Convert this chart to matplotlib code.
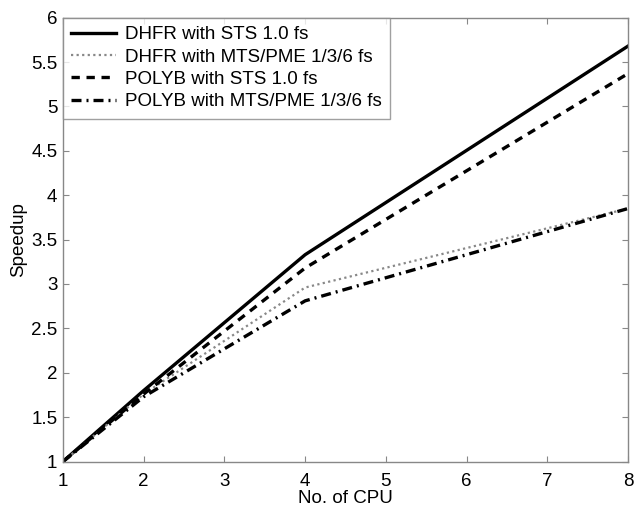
import matplotlib
matplotlib.use("Agg")
import matplotlib.pyplot as plt

cpus = [1, 2, 4, 8]
dhfr_sts = [1.0, 1.80, 3.33, 5.68]
dhfr_mts = [1.0, 1.76, 2.96, 3.85]
polyb_sts = [1.0, 1.76, 3.18, 5.37]
polyb_mts = [1.0, 1.73, 2.81, 3.85]
labels = ["DHFR with STS 1.0 fs", "DHFR with MTS/PME 1/3/6 fs",
          "POLYB with STS 1.0 fs", "POLYB with MTS/PME 1/3/6 fs"]
xticks = [1, 2, 3, 4, 5, 6, 7, 8]
yticks = [1, 1.5, 2, 2.5, 3, 3.5, 4, 4.5, 5, 5.5, 6]

plt.rcParams['font.family'] = ['Liberation Sans', 'DejaVu Sans']
fig = plt.figure(figsize=(6.34, 5.08), dpi=100)
ax = fig.add_axes([63/634, 1 - 461.5/508, (628-63)/634, (461.5-17.7)/508])

ax.plot(cpus, dhfr_sts, color='black', lw=2.4, ls='-', label=labels[0])
ax.plot(cpus, dhfr_mts, color='#888888', lw=1.6, ls=(0, (1, 1.5)), label=labels[1])
ax.plot(cpus, polyb_sts, color='black', lw=2.4, ls=(0, (2.5, 2)), label=labels[2])
ax.plot(cpus, polyb_mts, color='black', lw=2.4, ls=(0, (3, 1.5, 0.6, 1.5)), label=labels[3])

ax.set_xlim(1, 8)
ax.set_ylim(1, 6)
ax.set_xticks(xticks)
ax.set_yticks(yticks)
ax.set_yticklabels([f"{v:g}" for v in yticks])
ax.tick_params(direction='in', length=4, width=0.8, color='#888888', labelsize=13.5,
               top=True, right=True)
ax.tick_params(axis='x', pad=8)
ax.tick_params(axis='y', pad=4)
for s in ax.spines.values():
    s.set_color('#888888')
    s.set_linewidth(1.0)

ax.set_xlabel("No. of CPU", fontsize=13.5, labelpad=0)
ax.set_ylabel("Speedup", fontsize=13.5, labelpad=3)

leg = ax.legend(loc='upper left', bbox_to_anchor=(0, 1), borderaxespad=0,
                fontsize=13.5, frameon=True, fancybox=False, handlelength=2.4,
                labelspacing=0.28, handletextpad=0.45, borderpad=0.45)
leg.get_frame().set_edgecolor('#888888')
leg.get_frame().set_linewidth(1.0)

fig.savefig("out.png", dpi=100)
